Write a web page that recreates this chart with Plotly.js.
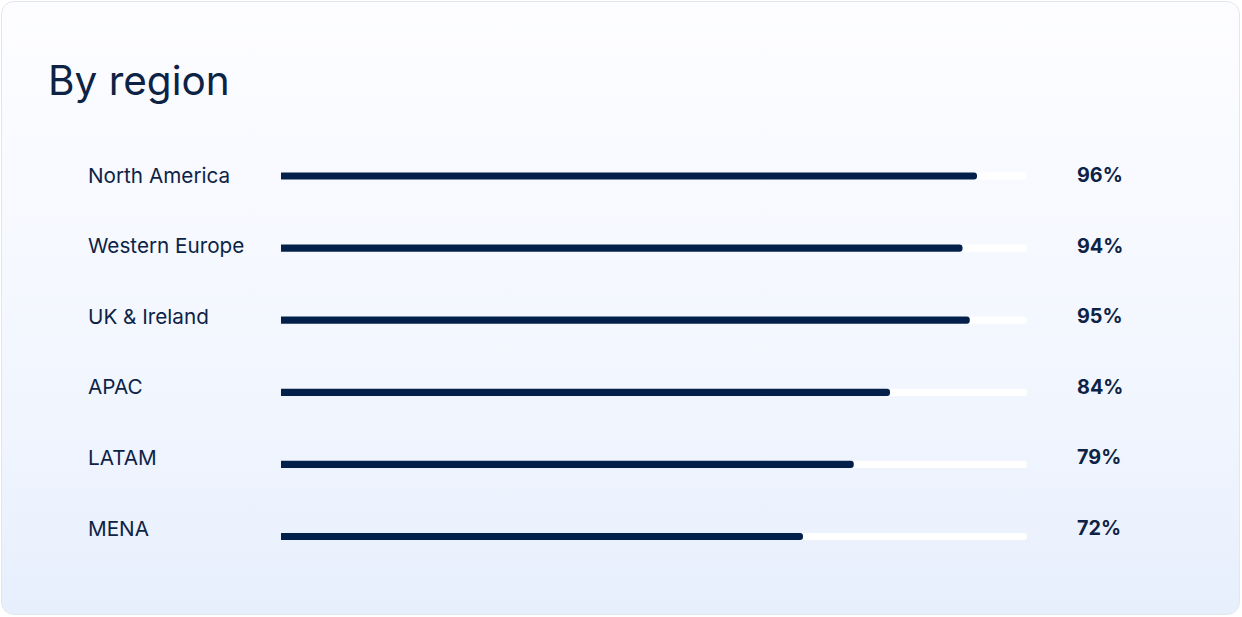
<!DOCTYPE html>
<html>
<head>
<meta charset="utf-8">
<script src="https://cdn.plot.ly/plotly-3.0.1.min.js"></script>
<style>
  html, body { margin: 0; padding: 0; background: #ffffff; }
  #wrap { position: relative; width: 1242px; height: 617px; }
  #card {
    position: absolute; left: 1px; top: 1px; width: 1237px; height: 612px;
    border: 1px solid #e2e7ef; border-radius: 13px;
    background: linear-gradient(180deg, #fdfdff 0%, #f7f9ff 35%, #f0f5fe 70%, #e7effd 100%);
  }
  #chart { position: absolute; left: 0; top: 0; width: 1242px; height: 617px; }
</style>
</head>
<body>
<div id="wrap">
  <div id="card"></div>
  <div id="chart"></div>
</div>
<script>
const regions = ['North America', 'Western Europe', 'UK & Ireland', 'APAC', 'LATAM', 'MENA'];
const scores = [96, 94, 95, 84, 79, 72];
const trackFull = [100, 100, 100, 100, 100, 100];
const scoreLabels = ['96%', '94%', '95%', '84%', '79%', '72%'];

const W = 1242, H = 617;
const navy = '#03204a';
const textColor = '#0d2346';
const barThick = 0.1;

const traces = [
  {
    type: 'bar', orientation: 'h', y: regions, x: trackFull,
    xaxis: 'x', yaxis: 'y', width: barThick,
    marker: { color: '#ffffff' }, hoverinfo: 'skip', showlegend: false
  },
  {
    type: 'bar', orientation: 'h', y: regions, x: scores,
    xaxis: 'x2', yaxis: 'y', width: barThick,
    marker: { color: navy }, hoverinfo: 'skip', showlegend: false
  }
];

const annotations = [];
regions.forEach((r, i) => {
  annotations.push({
    xref: 'paper', yref: 'y3', x: 86 / W, y: i, xanchor: 'left', yanchor: 'middle',
    text: r, showarrow: false,
    font: { family: 'Inter, "Noto Sans", sans-serif', size: 20.7, color: textColor }
  });
  annotations.push({
    xref: 'paper', yref: 'y3', x: 1075 / W, y: i, xanchor: 'left', yanchor: 'middle',
    text: '<b>' + scoreLabels[i] + '</b>', showarrow: false,
    font: { family: 'Inter, "Noto Sans", sans-serif', size: 19.8, color: textColor, weight: 600 }
  });
});

const hidden = { showgrid: false, zeroline: false, showticklabels: false, showline: false, ticks: '' };

const layout = {
  width: W, height: H,
  margin: { l: 0, r: 0, t: 0, b: 0, pad: 0 },
  paper_bgcolor: 'rgba(0,0,0,0)',
  plot_bgcolor: 'rgba(0,0,0,0)',
  showlegend: false,
  barcornerradius: 3.5,
  title: {
    text: 'By region', xref: 'paper', x: 48 / W, xanchor: 'left',
    yref: 'container', y: 1 - 81 / H, yanchor: 'middle',
    font: { family: 'Inter, "Noto Sans", sans-serif', size: 40.5, color: textColor }
  },
  xaxis: Object.assign({}, hidden, { domain: [281 / W, 1027 / W], range: [0, 100], fixedrange: true, anchor: 'y' }),
  xaxis2: Object.assign({}, hidden, { domain: [281 / W, 1006 / W], range: [0, 100], fixedrange: true, anchor: 'y' }),
  yaxis: Object.assign({}, hidden, {
    domain: [1 - 572.55 / H, 1 - 139.95 / H], type: 'category',
    categoryorder: 'array', categoryarray: regions, range: [5.5, -0.5], fixedrange: true, anchor: 'x'
  }),
  yaxis3: Object.assign({}, hidden, {
    domain: [1 - 563.3 / H, 1 - 139.7 / H], range: [5.5, -0.5], fixedrange: true,
    anchor: 'free', position: 0
  }),
  annotations: annotations
};

Plotly.newPlot('chart', traces, layout, { displayModeBar: false, staticPlot: true });
</script>
</body>
</html>
